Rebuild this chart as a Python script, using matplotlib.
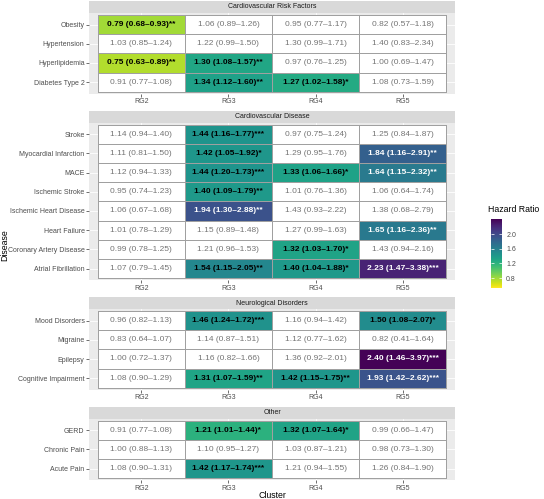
import numpy as np
import matplotlib
matplotlib.use("Agg")
import matplotlib.pyplot as plt
from matplotlib.colors import Normalize
import matplotlib.cm as cm

plt.rcParams['font.family'] = ['Liberation Sans', 'DejaVu Sans']

clusters = ["RG2", "RG3", "RG4", "RG5"]

# ---- Group 1 ----
g1_title = "Cardiovascular Risk Factors"
g1_names = ["Obesity", "Hypertension", "Hyperlipidemia", "Diabetes Type 2"]
g1_hr = [[0.79, 1.06, 0.95, 0.82],
         [1.03, 1.22, 1.30, 1.40],
         [0.75, 1.30, 0.97, 1.00],
         [0.91, 1.34, 1.27, 1.08]]
g1_lo = [[0.68, 0.89, 0.77, 0.57],
         [0.85, 0.99, 0.99, 0.83],
         [0.63, 1.08, 0.76, 0.69],
         [0.77, 1.12, 1.02, 0.73]]
g1_hi = [[0.93, 1.26, 1.17, 1.18],
         [1.24, 1.50, 1.71, 2.34],
         [0.89, 1.57, 1.25, 1.47],
         [1.08, 1.60, 1.58, 1.59]]
g1_st = [["**", "", "", ""],
         ["", "", "", ""],
         ["**", "**", "", ""],
         ["", "**", "*", ""]]

# ---- Group 2 ----
g2_title = "Cardiovascular Disease"
g2_names = ["Stroke", "Myocardial Infarction", "MACE", "Ischemic Stroke",
            "Ischemic Heart Disease", "Heart Failure", "Coronary Artery Disease",
            "Atrial Fibrillation"]
g2_hr = [[1.14, 1.44, 0.97, 1.25],
         [1.11, 1.42, 1.29, 1.84],
         [1.12, 1.44, 1.33, 1.64],
         [0.95, 1.40, 1.01, 1.06],
         [1.06, 1.94, 1.43, 1.38],
         [1.01, 1.15, 1.27, 1.65],
         [0.99, 1.21, 1.32, 1.43],
         [1.07, 1.54, 1.40, 2.23]]
g2_lo = [[0.94, 1.16, 0.75, 0.84],
         [0.81, 1.05, 0.95, 1.16],
         [0.94, 1.20, 1.06, 1.15],
         [0.74, 1.09, 0.76, 0.64],
         [0.67, 1.30, 0.93, 0.68],
         [0.78, 0.89, 0.99, 1.16],
         [0.78, 0.96, 1.03, 0.94],
         [0.79, 1.15, 1.04, 1.47]]
g2_hi = [[1.40, 1.77, 1.24, 1.87],
         [1.50, 1.92, 1.76, 2.91],
         [1.33, 1.73, 1.66, 2.32],
         [1.23, 1.79, 1.36, 1.74],
         [1.68, 2.88, 2.22, 2.79],
         [1.29, 1.48, 1.63, 2.36],
         [1.25, 1.53, 1.70, 2.16],
         [1.45, 2.05, 1.88, 3.38]]
g2_st = [["", "***", "", ""],
         ["", "*", "", "**"],
         ["", "***", "*", "**"],
         ["", "**", "", ""],
         ["", "**", "", ""],
         ["", "", "", "**"],
         ["", "", "*", ""],
         ["", "**", "*", "***"]]

# ---- Group 3 ----
g3_title = "Neurological Disorders"
g3_names = ["Mood Disorders", "Migraine", "Epilepsy", "Cognitive Impairment"]
g3_hr = [[0.96, 1.46, 1.16, 1.50],
         [0.83, 1.14, 1.12, 0.82],
         [1.00, 1.16, 1.36, 2.40],
         [1.08, 1.31, 1.42, 1.93]]
g3_lo = [[0.82, 1.24, 0.94, 1.08],
         [0.64, 0.87, 0.77, 0.41],
         [0.72, 0.82, 0.92, 1.46],
         [0.90, 1.07, 1.15, 1.42]]
g3_hi = [[1.13, 1.72, 1.42, 2.07],
         [1.07, 1.51, 1.62, 1.64],
         [1.37, 1.66, 2.01, 3.97],
         [1.29, 1.59, 1.75, 2.62]]
g3_st = [["", "***", "", "*"],
         ["", "", "", ""],
         ["", "", "", "***"],
         ["", "**", "**", "***"]]

# ---- Group 4 ----
g4_title = "Other"
g4_names = ["GERD", "Chronic Pain", "Acute Pain"]
g4_hr = [[0.91, 1.21, 1.32, 0.99],
         [1.00, 1.10, 1.03, 0.98],
         [1.08, 1.42, 1.21, 1.26]]
g4_lo = [[0.77, 1.01, 1.07, 0.66],
         [0.88, 0.95, 0.87, 0.73],
         [0.90, 1.17, 0.94, 0.84]]
g4_hi = [[1.08, 1.44, 1.64, 1.47],
         [1.13, 1.27, 1.21, 1.30],
         [1.31, 1.74, 1.55, 1.90]]
g4_st = [["", "*", "*", ""],
         ["", "", "", ""],
         ["", "***", "", ""]]

groups = [
    (g1_title, g1_names, g1_hr, g1_lo, g1_hi, g1_st),
    (g2_title, g2_names, g2_hr, g2_lo, g2_hi, g2_st),
    (g3_title, g3_names, g3_hr, g3_lo, g3_hi, g3_st),
    (g4_title, g4_names, g4_hr, g4_lo, g4_hi, g4_st),
]

cbar_ticks = [0.8, 1.2, 1.6, 2.0]
vmin, vmax = 0.53, 2.41

# ---- layout (pixels) ----
W, H = 544, 499
fig = plt.figure(figsize=(W / 100, H / 100), dpi=100)
cmap = plt.get_cmap("viridis_r").copy()
cmap.set_bad("white")
norm = Normalize(vmin=vmin, vmax=vmax)

px_left, px_right = 89, 455
row_h = 19.2
strip_h = 12
gap = 17
pad = 0.1

def px_axes(x0, y0, x1, y1):
    return fig.add_axes([x0 / W, 1 - y1 / H, (x1 - x0) / W, (y1 - y0) / H])

y = 1.0
for title, names, hr, lo, hi, st in groups:
    n = len(names)
    hr = np.array(hr, dtype=float)
    sig = np.array([[s != "" for s in r] for r in st])
    panel_h = (n + 2 * pad) * row_h
    # strip
    sax = px_axes(px_left, y, px_right, y + strip_h)
    sax.set_facecolor("#D9D9D9")
    sax.set_xticks([]); sax.set_yticks([])
    for sp in sax.spines.values():
        sp.set_visible(False)
    sax.text(0.5, 0.5, title, ha="center", va="center", fontsize=5.0,
             color="#1A1A1A", transform=sax.transAxes)
    y += strip_h
    ax = px_axes(px_left, y, px_right, y + panel_h)
    ax.set_facecolor("#EBEBEB")
    for sp in ax.spines.values():
        sp.set_visible(False)
    ax.set_axisbelow(True)
    ax.grid(True, color="white", linewidth=0.6)
    data = np.ma.masked_where(~sig, hr)
    xe = np.arange(len(clusters) + 1) + 0.5
    ye = np.arange(n + 1) + 0.5
    ax.pcolormesh(xe, ye, data, cmap=cmap, norm=norm, edgecolors="#A0A0A0",
                  linewidth=0.6, zorder=2)
    ax.set_xlim(0.5 - pad, len(clusters) + 0.5 + pad)
    ax.set_ylim(n + 0.5 + pad, 0.5 - pad)
    for i in range(n):
        for j in range(len(clusters)):
            label = f"{hr[i, j]:.2f} ({lo[i][j]:.2f}\u2013{hi[i][j]:.2f}){st[i][j]}"
            if sig[i, j]:
                col = "white" if hr[i, j] > 1.6 else "black"
                fw = "bold"
            else:
                col = "#747474"
                fw = "normal"
            ax.text(j + 1, i + 1, label, ha="center", va="center",
                    fontsize=6.0, color=col, fontweight=fw, zorder=3)
    ax.set_xticks(np.arange(1, len(clusters) + 1))
    ax.set_xticklabels(clusters)
    ax.set_yticks(np.arange(1, n + 1))
    ax.set_yticklabels(names)
    ax.tick_params(axis="both", labelsize=5.0, labelcolor="#4D4D4D",
                   color="#333333", length=2.0, width=0.5, pad=1.2)
    y += panel_h + gap

fig.text(272 / W, 1 - 496 / H, "Cluster", ha="center", va="center",
         fontsize=6.3, color="black")
fig.text(5 / W, 1 - 245 / H, "Disease", ha="center", va="center",
         fontsize=6.3, color="black", rotation=90)

# colorbar
cax = px_axes(491, 219, 502, 288)
cb = fig.colorbar(cm.ScalarMappable(norm=norm, cmap=plt.get_cmap("viridis_r")),
                  cax=cax, ticks=cbar_ticks)
cb.outline.set_visible(False)
cb.ax.set_yticklabels([f"{t:.1f}" for t in cbar_ticks])
cb.ax.tick_params(direction="in", color="white", length=2.2, width=0.5,
                  left=True, right=True, labelsize=5.0, labelcolor="#4D4D4D", pad=3)
fig.text(488 / W, 1 - 210 / H, "Hazard Ratio", ha="left", va="center",
         fontsize=6.3, color="black")

fig.savefig("out.png", dpi=100, facecolor="white")
